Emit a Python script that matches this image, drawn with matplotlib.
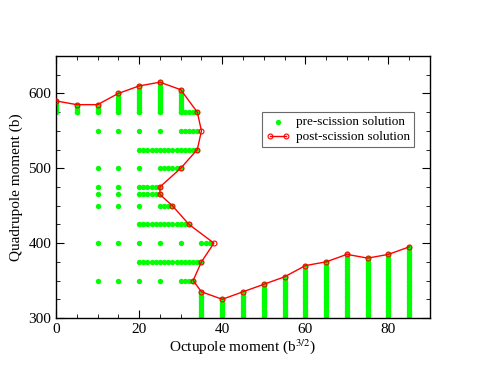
import numpy as np
import matplotlib
matplotlib.use("Agg")
import matplotlib.pyplot as plt
from matplotlib.ticker import MultipleLocator

plt.rcParams['font.family'] = ['Liberation Serif', 'DejaVu Serif']
plt.rcParams['mathtext.fontset'] = 'stix'

# post-scission line (octupole, quadrupole)
post_q3 = [0, 5, 10, 15, 20, 25, 30, 34, 35, 34, 30, 25, 25, 28, 32, 38, 35, 33, 35,
           40, 45, 50, 55, 60, 65, 70, 75, 80, 85]
post_q2 = [590, 585, 585, 600, 610, 615, 605, 575, 550, 525, 500, 475, 465, 450, 425, 400, 375, 350, 335,
           325, 335, 345, 355, 370, 375, 385, 380, 385, 395]

# pre-scission points: isolated points per row (y -> x list)
row_sparse = {
    575: [0, 5, 10, 15, 20, 25],
    550: [10, 15, 20, 25],
    500: [10, 15, 20],
    475: [10, 15],
    465: [10, 15],
    450: [10, 15, 20],
    400: [10, 15, 20, 25, 30],
    350: [10, 15, 20, 25],
}
# dense rows (y, x_first, x_last), step 1 in x
row_dense = [
    (575, 30, 34), (550, 30, 34), (525, 20, 34), (500, 25, 30),
    (475, 20, 25), (465, 20, 25), (450, 25, 28), (425, 20, 32),
    (400, 35, 37), (375, 20, 35), (350, 30, 33),
]
# dense columns (x, y_first, y_last), step 2.5 in y
col_dense = [
    (0, 575, 590), (5, 575, 585), (10, 575, 585), (15, 575, 600),
    (20, 575, 610), (25, 575, 615), (30, 575, 605),
    (35, 300, 335), (40, 300, 325), (45, 300, 335), (50, 300, 345),
    (55, 300, 355), (60, 300, 370), (65, 300, 375), (70, 300, 385),
    (75, 300, 380), (80, 300, 385), (85, 300, 395),
]

pre_x, pre_y = [], []
for y, xs in row_sparse.items():
    pre_x += xs
    pre_y += [y] * len(xs)
for y, x0, x1 in row_dense:
    xs = list(range(x0, x1 + 1))
    pre_x += xs
    pre_y += [y] * len(xs)
for x, y0, y1 in col_dense:
    ys = list(np.arange(y0, y1 + 0.1, 2.5))
    pre_x += [x] * len(ys)
    pre_y += ys

fig = plt.figure(figsize=(4.84, 3.74), dpi=100)
ax = fig.add_axes([56 / 484, 56 / 374, 374 / 484, 262 / 374])

ax.scatter(pre_x, pre_y, s=15, color='#00ff00', linewidths=0,
           label='pre-scission solution', zorder=2)
ax.plot(post_q3, post_q2, '-o', color='red', linewidth=1.0, markersize=3.5,
        markerfacecolor='none', markeredgecolor='red', markeredgewidth=0.8,
        label='post-scission solution', zorder=3)

ax.set_xlim(0, 90)
ax.set_ylim(300, 650)
ax.xaxis.set_major_locator(MultipleLocator(20))
ax.xaxis.set_minor_locator(MultipleLocator(5))
ax.yaxis.set_major_locator(MultipleLocator(100))
ax.yaxis.set_minor_locator(MultipleLocator(25))
ax.tick_params(which='both', direction='in', top=True, right=True, labelsize=11)
ax.tick_params(which='major', length=6)
ax.tick_params(which='minor', length=3)
for s in ax.spines.values():
    s.set_linewidth(1.0)

ax.set_xlabel('Octupole moment (b$^{3/2}$)', fontsize=11, labelpad=1)
ax.set_ylabel('Quadrupole moment (b)', fontsize=11, labelpad=4)

leg = ax.legend(loc='upper left', bbox_to_anchor=(0.551, 0.786), fontsize=9.5,
                frameon=True, fancybox=False, edgecolor='#444444', borderpad=0.3,
                handlelength=1.8, handletextpad=0.5, labelspacing=0.2,
                borderaxespad=0, numpoints=2, scatterpoints=1)
leg.get_frame().set_linewidth(0.8)

fig.savefig('out.png', dpi=100)
